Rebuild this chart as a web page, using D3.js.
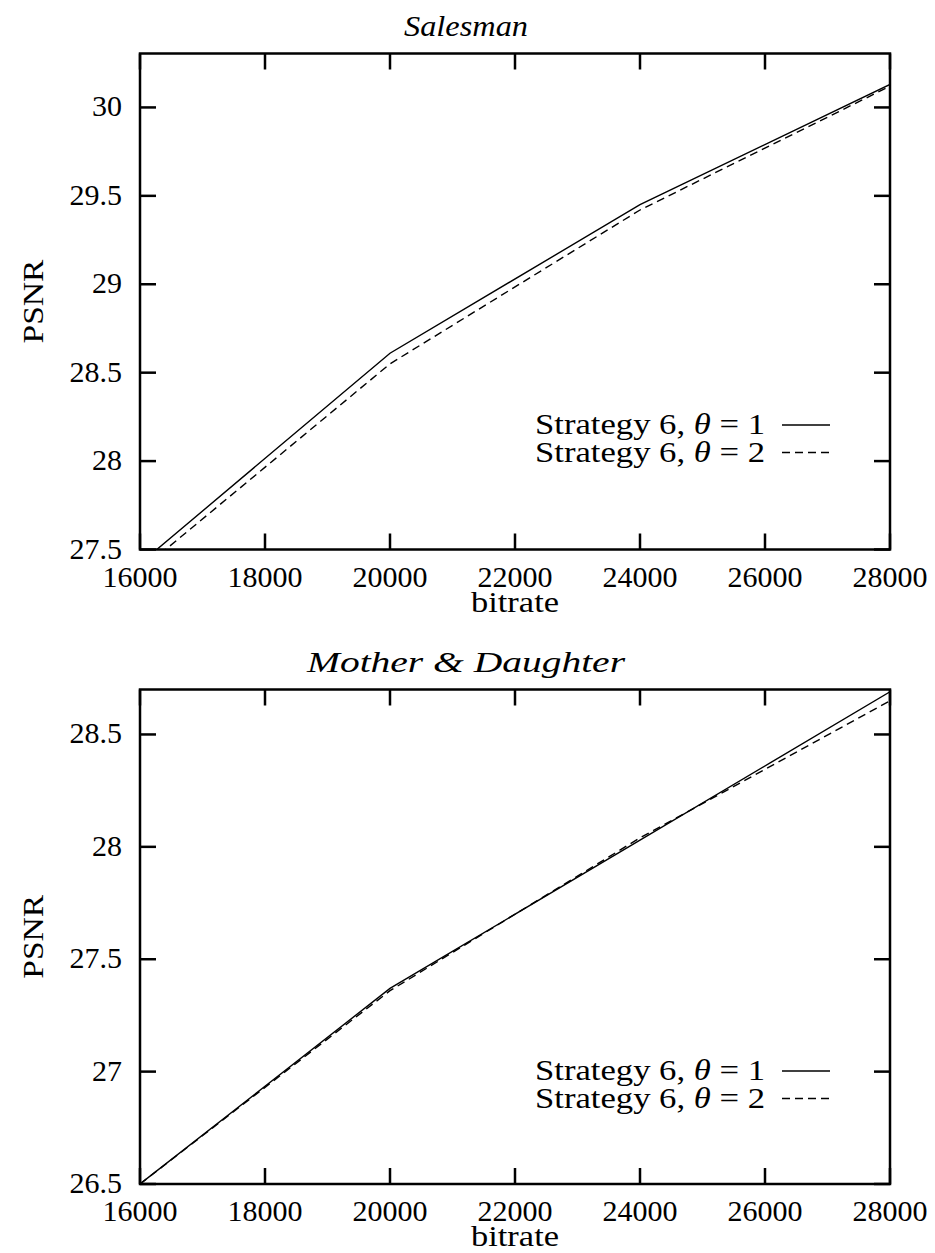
<!DOCTYPE html>
<html>
<head>
<meta charset="utf-8">
<script src="https://cdn.jsdelivr.net/npm/d3@7"></script>
<style>
  body { margin: 0; background: #fff; }
</style>
</head>
<body>
<div id="chart"></div>
<script>
// values
const bitrate = [16000, 20000, 24000, 28000];
const salesmanTheta1 = [27.42, 28.61, 29.45, 30.13];
const salesmanTheta2 = [27.38, 28.55, 29.42, 30.12];
const motherTheta1 = [26.50, 27.37, 28.03, 28.69];
const motherTheta2 = [26.50, 27.36, 28.04, 28.65];
const xTicks = [16000, 18000, 20000, 22000, 24000, 26000, 28000];
const salesmanYTicks = [27.5, 28, 28.5, 29, 29.5, 30];
const motherYTicks = [26.5, 27, 27.5, 28, 28.5];
const legendLabels = ["1", "2"];

const width = 935, height = 1253;
const fontSize = 29;
const serif = "'Liberation Serif', 'Times New Roman', 'DejaVu Serif', serif";

const svg = d3.select("#chart").append("svg")
    .attr("width", width)
    .attr("height", height)
    .attr("font-family", serif);

function drawPanel(opts) {
    const x = d3.scaleLinear().domain([16000, 28000]).range([140, 890]);
    const y = d3.scaleLinear().domain(opts.yDomain).range([opts.bottom, opts.top]);
    const g = svg.append("g");
    const clipId = "clip-" + opts.id;

    g.append("clipPath").attr("id", clipId)
        .append("rect")
        .attr("x", 140).attr("y", opts.top)
        .attr("width", 750).attr("height", opts.bottom - opts.top);

    // title (the original's Computer Modern is wider, so stretch a bit)
    g.append("text")
        .attr("x", 466)
        .attr("y", opts.top - 18)
        .attr("text-anchor", "middle")
        .attr("font-family", serif)
        .attr("font-style", "italic")
        .attr("font-size", fontSize + 1)
        .attr("textLength", opts.titleWidth)
        .attr("lengthAdjust", "spacingAndGlyphs")
        .text(opts.title);

    // ticks on all four sides, pointing inward
    const tickLen = 16;
    const tickGroup = g.append("g").attr("stroke", "#000").attr("stroke-width", 2.5);
    tickGroup.selectAll("line.xb").data(xTicks).join("line")
        .attr("x1", d => x(d)).attr("x2", d => x(d))
        .attr("y1", opts.bottom).attr("y2", opts.bottom - tickLen);
    tickGroup.selectAll("line.xt").data(xTicks).join("line")
        .attr("x1", d => x(d)).attr("x2", d => x(d))
        .attr("y1", opts.top).attr("y2", opts.top + tickLen);
    tickGroup.selectAll("line.yl").data(opts.yTicks).join("line")
        .attr("x1", 140).attr("x2", 140 + tickLen)
        .attr("y1", d => y(d)).attr("y2", d => y(d));
    tickGroup.selectAll("line.yr").data(opts.yTicks).join("line")
        .attr("x1", 890).attr("x2", 890 - tickLen)
        .attr("y1", d => y(d)).attr("y2", d => y(d));

    // frame
    g.append("rect")
        .attr("x", 140).attr("y", opts.top)
        .attr("width", 750).attr("height", opts.bottom - opts.top)
        .attr("fill", "none")
        .attr("stroke", "#000")
        .attr("stroke-width", 2.5);

    // tick labels
    g.append("g").selectAll("text").data(xTicks).join("text")
        .attr("x", d => x(d))
        .attr("y", opts.bottom + 37)
        .attr("text-anchor", "middle")
        .attr("font-family", serif)
        .attr("font-size", fontSize + 1)
        .text(d => d);
    g.append("g").selectAll("text").data(opts.yTicks).join("text")
        .attr("x", 122)
        .attr("y", d => y(d))
        .attr("dy", "0.3em")
        .attr("text-anchor", "end")
        .attr("font-family", serif)
        .attr("font-size", fontSize + 1)
        .text(d => d);

    // axis labels
    g.append("text")
        .attr("x", 515)
        .attr("y", opts.bottom + 62)
        .attr("text-anchor", "middle")
        .attr("font-family", serif)
        .attr("font-size", fontSize)
        .attr("textLength", 88)
        .attr("lengthAdjust", "spacingAndGlyphs")
        .text("bitrate");
    g.append("text")
        .attr("transform", `translate(43, ${(opts.top + opts.bottom) / 2}) rotate(-90)`)
        .attr("text-anchor", "middle")
        .attr("font-family", serif)
        .attr("font-size", fontSize)
        .attr("textLength", 84)
        .attr("lengthAdjust", "spacingAndGlyphs")
        .text("PSNR");

    // data lines
    const line = d3.line().x(d => x(d[0])).y(d => y(d[1]));
    const series = [opts.s1, opts.s2];
    const dashes = [null, "8,5"];
    g.append("g").attr("clip-path", `url(#${clipId})`)
        .selectAll("path").data(series).join("path")
        .attr("d", s => line(bitrate.map((b, i) => [b, s[i]])))
        .attr("fill", "none")
        .attr("stroke", "#000")
        .attr("stroke-width", 1.4)
        .attr("stroke-dasharray", (s, i) => dashes[i]);

    // legend
    const leg = g.append("g").selectAll("g").data(legendLabels).join("g")
        .attr("transform", (d, i) => `translate(0, ${opts.legendY + i * 27.5})`);
    const lt = leg.append("text")
        .attr("x", 765)
        .attr("dy", "0.3em")
        .attr("text-anchor", "end")
        .attr("font-family", serif)
        .attr("font-size", fontSize + 1)
        .attr("textLength", 230)
        .attr("lengthAdjust", "spacingAndGlyphs");
    lt.append("tspan").text("Strategy 6, ");
    lt.append("tspan").attr("font-style", "italic").text("θ");
    lt.append("tspan").text(d => " = " + d);
    leg.append("line")
        .attr("x1", 782).attr("x2", 830)
        .attr("stroke", "#000")
        .attr("stroke-width", 1.4)
        .attr("stroke-dasharray", (d, i) => dashes[i]);
}

drawPanel({
    id: "salesman",
    title: "Salesman",
    titleWidth: 124,
    top: 53.5,
    bottom: 549.5,
    yDomain: [27.5, 30.305],
    yTicks: salesmanYTicks,
    s1: salesmanTheta1,
    s2: salesmanTheta2,
    legendY: 425
});

drawPanel({
    id: "mother",
    title: "Mother & Daughter",
    titleWidth: 318,
    top: 689.5,
    bottom: 1184,
    yDomain: [26.5, 28.7],
    yTicks: motherYTicks,
    s1: motherTheta1,
    s2: motherTheta2,
    legendY: 1071
});
</script>
</body>
</html>
